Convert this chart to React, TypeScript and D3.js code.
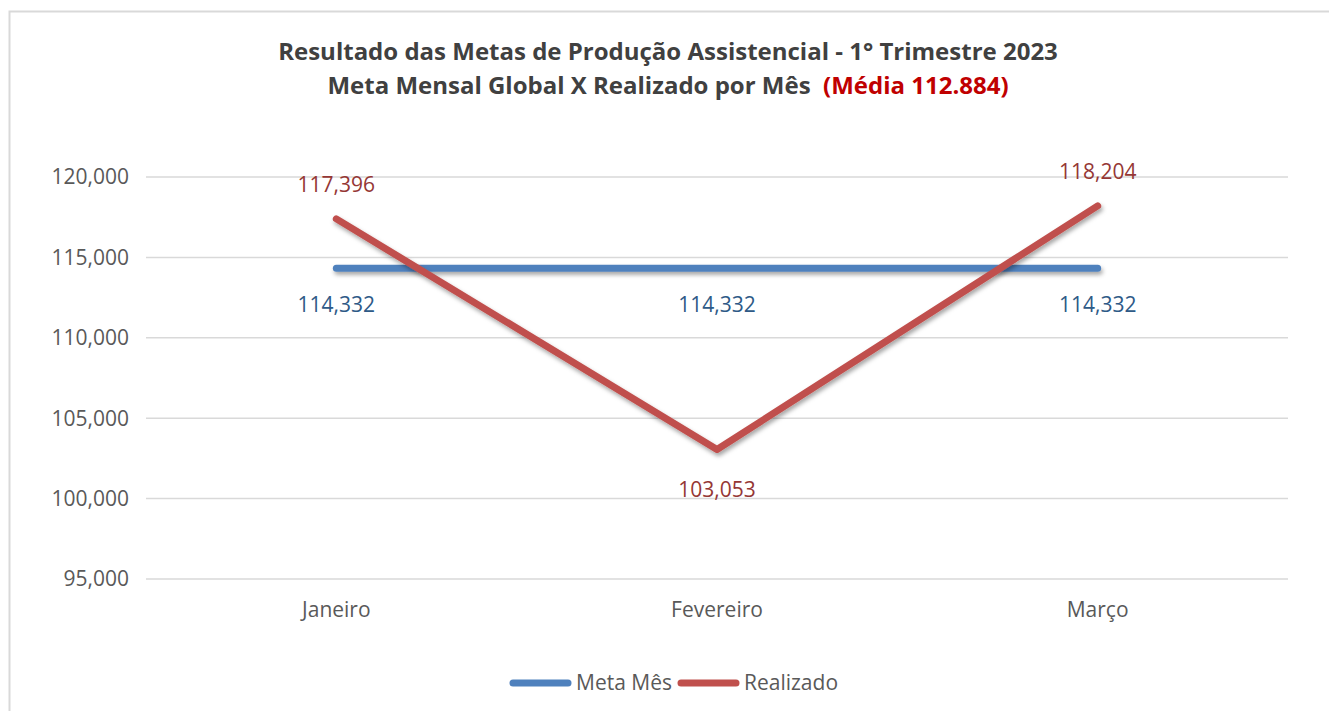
import React from 'react';
import * as d3 from 'd3';

// dados do gráfico
const meses = ['Janeiro', 'Fevereiro', 'Março'];
const metaMes = [114332, 114332, 114332];
const realizado = [117396, 103053, 118204];
const yTicks = [95000, 100000, 105000, 110000, 115000, 120000];

const W = 1329;
const H = 711;
const FONT = '"Open Sans", "Noto Sans", sans-serif';

const App: React.FC = () => {
  const margin = { left: 146, right: 41, top: 177, bottom: 132 };

  const x = d3.scaleBand<string>()
    .domain(meses)
    .range([margin.left, W - margin.right]);

  const y = d3.scaleLinear()
    .domain([95000, 120000])
    .range([H - margin.bottom, margin.top]);

  const cx = (m: string) => (x(m) ?? 0) + x.bandwidth() / 2;
  const fmt = d3.format(',');

  const line = d3.line<[string, number]>()
    .x(d => cx(d[0]))
    .y(d => y(d[1]));

  const metaPts = meses.map((m, i) => [m, metaMes[i]] as [string, number]);
  const realPts = meses.map((m, i) => [m, realizado[i]] as [string, number]);

  const blue = '#4f81bd';
  const red = '#c0504d';

  return (
    <svg width={W} height={H} style={{ position: 'absolute', left: 0, top: 0, background: '#fff' }}
      fontFamily={FONT}>
      <defs>
        {/* userSpaceOnUse: a linha horizontal não tem altura */}
        <filter id="sombra" filterUnits="userSpaceOnUse" x={0} y={0} width={W} height={H}>
          <feDropShadow dx="1.5" dy="3" stdDeviation="2" floodColor="#000" floodOpacity="0.35" />
        </filter>
      </defs>

      {/* moldura */}
      <rect x={9.5} y={11.5} width={W} height={H} fill="none" stroke="#d9d9d9" strokeWidth={2} />

      {/* título */}
      <text x={668} y={60} textAnchor="middle" fontSize={24} fontWeight="bold" fill="#404040">
        Resultado das Metas de Produção Assistencial - 1° Trimestre 2023
      </text>
      <text x={668} y={94} textAnchor="middle" fontSize={24} fontWeight="bold" fill="#404040">
        Meta Mensal Global X Realizado por Mês{'\u00a0\u00a0'}
        <tspan fill="#c00000">(Média 112.884)</tspan>
      </text>

      {/* grade e eixo y */}
      {yTicks.map(t => (
        <g key={t}>
          <line x1={margin.left} x2={W - margin.right} y1={y(t)} y2={y(t)} stroke="#d9d9d9" strokeWidth={1.5} />
          <text x={129} y={y(t)} dy="0.35em" textAnchor="end" fontSize={21} fill="#595959">
            {fmt(t)}
          </text>
        </g>
      ))}

      {/* eixo x */}
      {meses.map(m => (
        <text key={m} x={cx(m)} y={610} dy="0.35em" textAnchor="middle" fontSize={21} fill="#595959">
          {m}
        </text>
      ))}

      {/* linhas */}
      <path d={line(metaPts) ?? ''} fill="none" stroke={blue} strokeWidth={7}
        strokeLinecap="round" strokeLinejoin="round" filter="url(#sombra)" />
      <path d={line(realPts) ?? ''} fill="none" stroke={red} strokeWidth={7}
        strokeLinecap="round" strokeLinejoin="round" filter="url(#sombra)" />

      {/* rótulos de dados */}
      {metaPts.map(([m, v]) => (
        <text key={'m' + m} x={cx(m)} y={y(v) + 37} dy="0.35em" textAnchor="middle" fontSize={21} fill="#2e5a87">
          {fmt(v)}
        </text>
      ))}
      {realPts.map(([m, v], i) => (
        <text key={'r' + m} x={cx(m)} y={i === 1 ? y(v) + 40 : y(v) - 34} dy="0.35em" textAnchor="middle"
          fontSize={21} fill="#953735">
          {fmt(v)}
        </text>
      ))}

      {/* legenda */}
      <line x1={513} x2={568} y1={683} y2={683} stroke={blue} strokeWidth={7} strokeLinecap="round" />
      <text x={576} y={683} dy="0.35em" fontSize={21} fill="#595959">Meta Mês</text>
      <line x1={681} x2={736} y1={683} y2={683} stroke={red} strokeWidth={7} strokeLinecap="round" />
      <text x={744} y={683} dy="0.35em" fontSize={21} fill="#595959">Realizado</text>
    </svg>
  );
};

export default App;
